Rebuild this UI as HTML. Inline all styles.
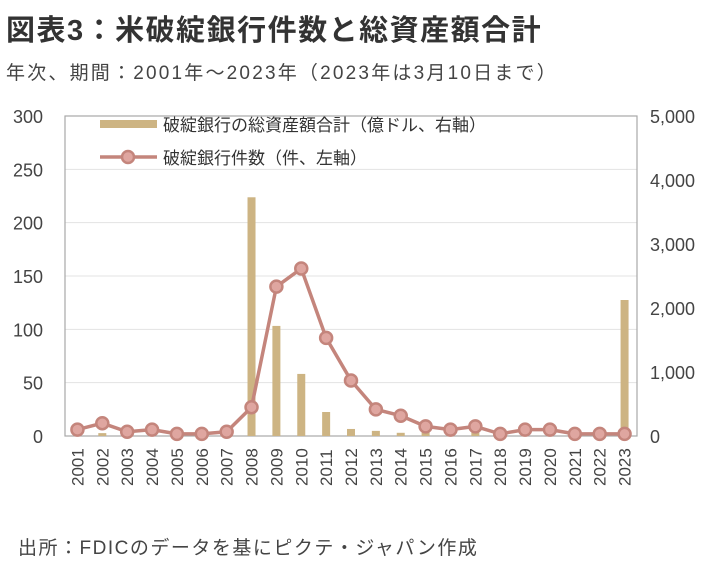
<!DOCTYPE html>
<html><head><meta charset="utf-8"><style>
body{margin:0;background:#fff;width:717px;height:572px;overflow:hidden;font-family:"Liberation Sans","Noto Sans CJK JP",sans-serif;color:#333}
svg text{font-family:"Liberation Sans","Noto Sans CJK JP",sans-serif}
</style></head><body>
<svg width="717" height="572">
<text x="6" y="40" font-size="29" letter-spacing="1.5" font-weight="bold" fill="#333">図表3：米破綻銀行件数と総資産額合計</text>
<text x="6" y="79" font-size="19" letter-spacing="2.2" fill="#444">年次、期間：2001年～2023年（2023年は3月10日まで）</text>
<text x="18" y="554" font-size="19" letter-spacing="1.5" fill="#444">出所：FDICのデータを基にピクテ・ジャパン作成</text>
<g id="plot"></g>
</svg>
<script>
const years=["2001","2002","2003","2004","2005","2006","2007","2008","2009","2010","2011","2012","2013","2014","2015","2016","2017","2018","2019","2020","2021","2022","2023"];
const failures=[6,12,4,6,2,2,4,27,140,157,92,52,25,19,9,6,9,2,6,6,2,2,2];
const assets=[0,45,0,0,0,0,20,3730,1720,970,375,110,80,50,100,10,60,0,0,0,0,0,2125];
const leftTicks=[0,50,100,150,200,250,300];
const rightTicks=[0,1000,2000,3000,4000,5000];
const NS="http://www.w3.org/2000/svg";
const g=document.getElementById('plot');
const L=65,R=637,T=116,B=436,bw=(R-L)/years.length;
const xc=i=>L+bw*(i+0.5);
const yl=v=>B-(v/300)*(B-T);
const yr=v=>B-(v/5000)*(B-T);
function mk(t,a){const e=document.createElementNS(NS,t);for(const k in a)e.setAttribute(k,a[k]);g.appendChild(e);return e;}
leftTicks.forEach(v=>{
 const l=mk('line',{x1:L,x2:R,y1:yl(v),y2:yl(v),stroke:'#e3e3e3','stroke-width':1});
 
 
 const t=mk('text',{x:L-22,y:yl(v)+7,'font-size':18,'text-anchor':'end',fill:'#444'});t.textContent=v;
 
 
});
rightTicks.forEach(v=>{
 const t=mk('text',{x:650,y:yr(v)+7,'font-size':18,fill:'#444'});t.textContent=v.toLocaleString('en-US');
 
 
});
const box=mk('rect',{x:L,y:T,width:R-L,height:B-T,fill:'none',stroke:'#a8a8a8','stroke-width':1.2});


years.forEach((y,i)=>{
 const h=B-yr(assets[i]);
 const r=mk('rect',{x:xc(i)-4,y:yr(assets[i]),width:8,height:h,fill:'#cdb483'});
 
 
 const t=mk('text',{transform:`translate(${xc(i)+6},${B+50}) rotate(-90)`,'font-size':17,fill:'#444'});t.textContent=y;
 
 
});
const pts=failures.map((v,i)=>xc(i)+','+yl(v)).join(' ');
const pl=mk('polyline',{points:pts,fill:'none',stroke:'#c4857c','stroke-width':3.5,'stroke-linejoin':'round'});


failures.forEach((v,i)=>{
 const c=mk('circle',{cx:xc(i),cy:yl(v),r:6,fill:'#dfa6a0',stroke:'#c4857c','stroke-width':2.5});
 
 
});
const lb=mk('rect',{x:100,y:120,width:57,height:8,fill:'#cdb483'});


const lt1=mk('text',{x:163,y:131,'font-size':17,fill:'#333'});lt1.textContent='破綻銀行の総資産額合計（億ドル、右軸）';


const ll=mk('line',{x1:100,x2:157,y1:157,y2:157,stroke:'#c4857c','stroke-width':3.5});


const lc=mk('circle',{cx:128,cy:157,r:6,fill:'#dfa6a0',stroke:'#c4857c','stroke-width':2.5});


const lt2=mk('text',{x:163,y:164,'font-size':17,fill:'#333'});lt2.textContent='破綻銀行件数（件、左軸）';


</script>
</body></html>
